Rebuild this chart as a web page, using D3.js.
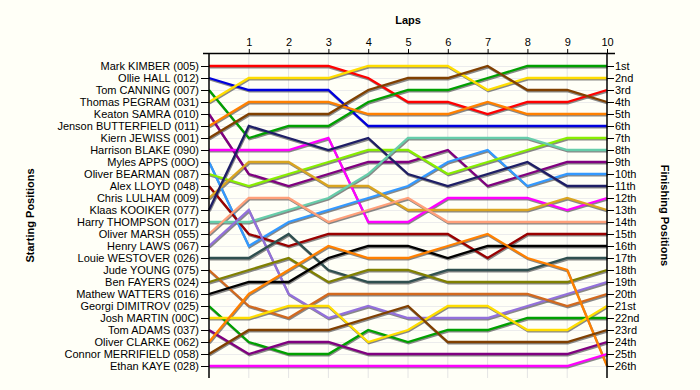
<!DOCTYPE html>
<html><head><meta charset="utf-8">
<script src="https://cdn.jsdelivr.net/npm/d3@7"></script>
<style>
html,body{margin:0;padding:0;background:#FFFFF7;}
svg{display:block;font-family:"Liberation Sans",Arial,sans-serif;}
</style></head><body>
<svg id="chart" width="700" height="390"></svg>
<script>
const laps = [0,1,2,3,4,5,6,7,8,9,10];
const lapTickLabels = ["1","2","3","4","5","6","7","8","9","10"];
const drivers = ["Mark KIMBER (005)","Ollie HALL (012)","Tom CANNING (007)","Thomas PEGRAM (031)","Keaton SAMRA (010)","Jenson BUTTERFIELD (011)","Kiern JEWISS (001)","Harrison BLAKE (090)","Myles APPS (00O)","Oliver BEARMAN (087)","Alex LLOYD (048)","Chris LULHAM (009)","Klaas KOOIKER (077)","Harry THOMPSON (017)","Oliver MARSH (055)","Henry LAWS (067)","Louie WESTOVER (026)","Jude YOUNG (075)","Ben FAYERS (024)","Mathew WATTERS (016)","Georgi DIMITROV (025)","Josh MARTIN (00C)","Tom ADAMS (037)","Oliver CLARKE (062)","Connor MERRIFIELD (058)","Ethan KAYE (028)"];
const finishLabels = ["1st","2nd","3rd","4th","5th","6th","7th","8th","9th","10th","11th","12th","13th","14th","15th","16th","17th","18th","19th","20th","21st","22nd","23rd","24th","25th","26th"];
const colors = ["#FF0000","#0000DD","#00A000","#FFDD00","#800080","#FF8000","#804000","#FF00FF","#3399FF","#88EE00","#990000","#DAA520","#1E1E66","#66CDAA","#FFA07A","#9370DB","#2F4F4F","#D2691E","#808000","#000000","#00A000","#FFDD00","#800080","#FF8000","#804000","#FF00FF"];
// positions per lap (0..10) for each driver, in starting order
const positions = [
 [1,1,1,1,2,4,4,5,4,4,3],
 [2,3,3,3,6,6,6,6,6,6,6],
 [3,7,6,6,4,3,3,2,1,1,1],
 [4,2,2,2,1,1,1,3,2,2,2],
 [5,10,11,10,9,9,8,11,10,9,9],
 [6,4,4,4,5,5,5,4,5,5,5],
 [7,5,5,5,3,2,2,1,3,3,4],
 [8,8,8,7,14,14,12,12,12,13,12],
 [9,16,14,13,12,11,9,8,11,10,10],
 [10,11,10,9,8,8,10,9,8,7,7],
 [11,15,16,15,15,15,15,17,15,15,15],
 [12,9,9,11,11,13,13,13,13,12,13],
 [13,6,7,8,7,10,11,10,9,11,11],
 [14,14,13,12,10,7,7,7,7,8,8],
 [15,12,12,14,13,12,14,14,14,14,14],
 [16,13,20,22,21,22,22,22,21,20,19],
 [17,17,15,18,19,19,18,18,18,17,17],
 [18,21,22,20,20,20,20,20,20,21,20],
 [19,18,17,19,18,18,19,19,19,19,18],
 [20,19,19,17,16,16,17,16,16,16,16],
 [21,24,25,25,23,24,23,23,22,22,22],
 [22,22,21,21,24,23,21,21,23,23,21],
 [23,25,24,24,25,25,25,25,25,25,24],
 [24,20,18,16,17,17,16,15,17,18,26],
 [25,23,23,23,22,21,24,24,24,24,23],
 [26,26,26,26,26,26,26,26,26,26,25]
];

const svg = d3.select("#chart");
const ranks = d3.range(1, 27);
const x = d3.scaleLinear().domain([0, 10]).range([209, 607]);
const y = d3.scaleLinear().domain([1, 26]).range([66, 366]);
const plotTop = 53, plotBottom = 378;

// gridlines
const grid = svg.append("g");
grid.selectAll("line.v").data(laps.slice(1, 10)).join("line")
  .attr("x1", d => x(d)).attr("x2", d => x(d)).attr("y1", plotTop).attr("y2", plotBottom)
  .attr("stroke", "#E4E4E4").attr("stroke-width", 1);
grid.selectAll("line.h").data(ranks).join("line")
  .attr("x1", x(0)).attr("x2", x(10)).attr("y1", d => y(d) + 0.5).attr("y2", d => y(d) + 0.5)
  .attr("stroke", "#ECECEC").attr("stroke-width", 1);

// lines
const line = d3.line().x((d, i) => x(laps[i])).y(d => y(d));
const series = positions.map((p, i) => ({p, c: colors[i]}));
svg.append("g").attr("transform", "translate(0.7,1.3)")
  .selectAll("path").data(series).join("path")
  .attr("d", d => line(d.p)).attr("fill", "none")
  .attr("stroke", "#6a6a6a").attr("stroke-width", 2.3).attr("stroke-opacity", 0.8)
  .attr("stroke-linejoin", "miter");
svg.append("g")
  .selectAll("path").data(series).join("path")
  .attr("d", d => line(d.p)).attr("fill", "none")
  .attr("stroke", d => d.c).attr("stroke-width", 2.3)
  .attr("stroke-linejoin", "miter");

// axes
const fs = "11px";
const topAxis = svg.append("g").attr("transform", `translate(0,${plotTop})`)
  .call(d3.axisTop(x).tickValues(laps.slice(1)).tickFormat((d, i) => lapTickLabels[i]).tickSize(4).tickSizeOuter(0).tickPadding(3));
topAxis.select(".domain").remove();
topAxis.append("line").attr("x1", 203).attr("x2", 615).attr("y1", 0.5).attr("y2", 0.5).attr("stroke", "#000").attr("stroke-width", 1.5);
topAxis.selectAll("text").attr("font-size", fs).attr("fill", "#000").attr("font-family", "Liberation Sans, Arial, sans-serif");

const leftAxis = svg.append("g").attr("transform", `translate(${x(0)},0)`)
  .call(d3.axisLeft(y).tickValues(ranks).tickFormat(d => drivers[d - 1]).tickSize(8).tickSizeOuter(0).tickPadding(2));
leftAxis.select(".domain").remove();
leftAxis.append("line").attr("x1", 0).attr("x2", 0).attr("y1", plotTop).attr("y2", plotBottom).attr("stroke", "#000").attr("stroke-width", 1.5);
leftAxis.selectAll("text").attr("font-size", fs).attr("fill", "#000").attr("font-family", "Liberation Sans, Arial, sans-serif");

const rightAxis = svg.append("g").attr("transform", `translate(${x(10)},0)`)
  .call(d3.axisRight(y).tickValues(ranks).tickFormat(d => finishLabels[d - 1]).tickSize(7).tickSizeOuter(0).tickPadding(1));
rightAxis.select(".domain").remove();
rightAxis.append("line").attr("x1", 0).attr("x2", 0).attr("y1", plotTop).attr("y2", plotBottom).attr("stroke", "#000").attr("stroke-width", 1.5);
rightAxis.selectAll("text").attr("font-size", fs).attr("fill", "#000").attr("font-family", "Liberation Sans, Arial, sans-serif");

// titles
svg.append("text").attr("x", (x(0) + x(10)) / 2).attr("y", 24).attr("text-anchor", "middle")
  .attr("font-size", "11px").attr("font-weight", "bold").text("Laps");
svg.append("text").attr("transform", `translate(34,${(plotTop + plotBottom) / 2}) rotate(-90)`).attr("text-anchor", "middle")
  .attr("font-size", "11px").attr("font-weight", "bold").text("Starting Positions");
svg.append("text").attr("transform", `translate(661,${(plotTop + plotBottom) / 2}) rotate(90)`).attr("text-anchor", "middle")
  .attr("font-size", "11px").attr("font-weight", "bold").text("Finishing Positions");
</script>
</body></html>
